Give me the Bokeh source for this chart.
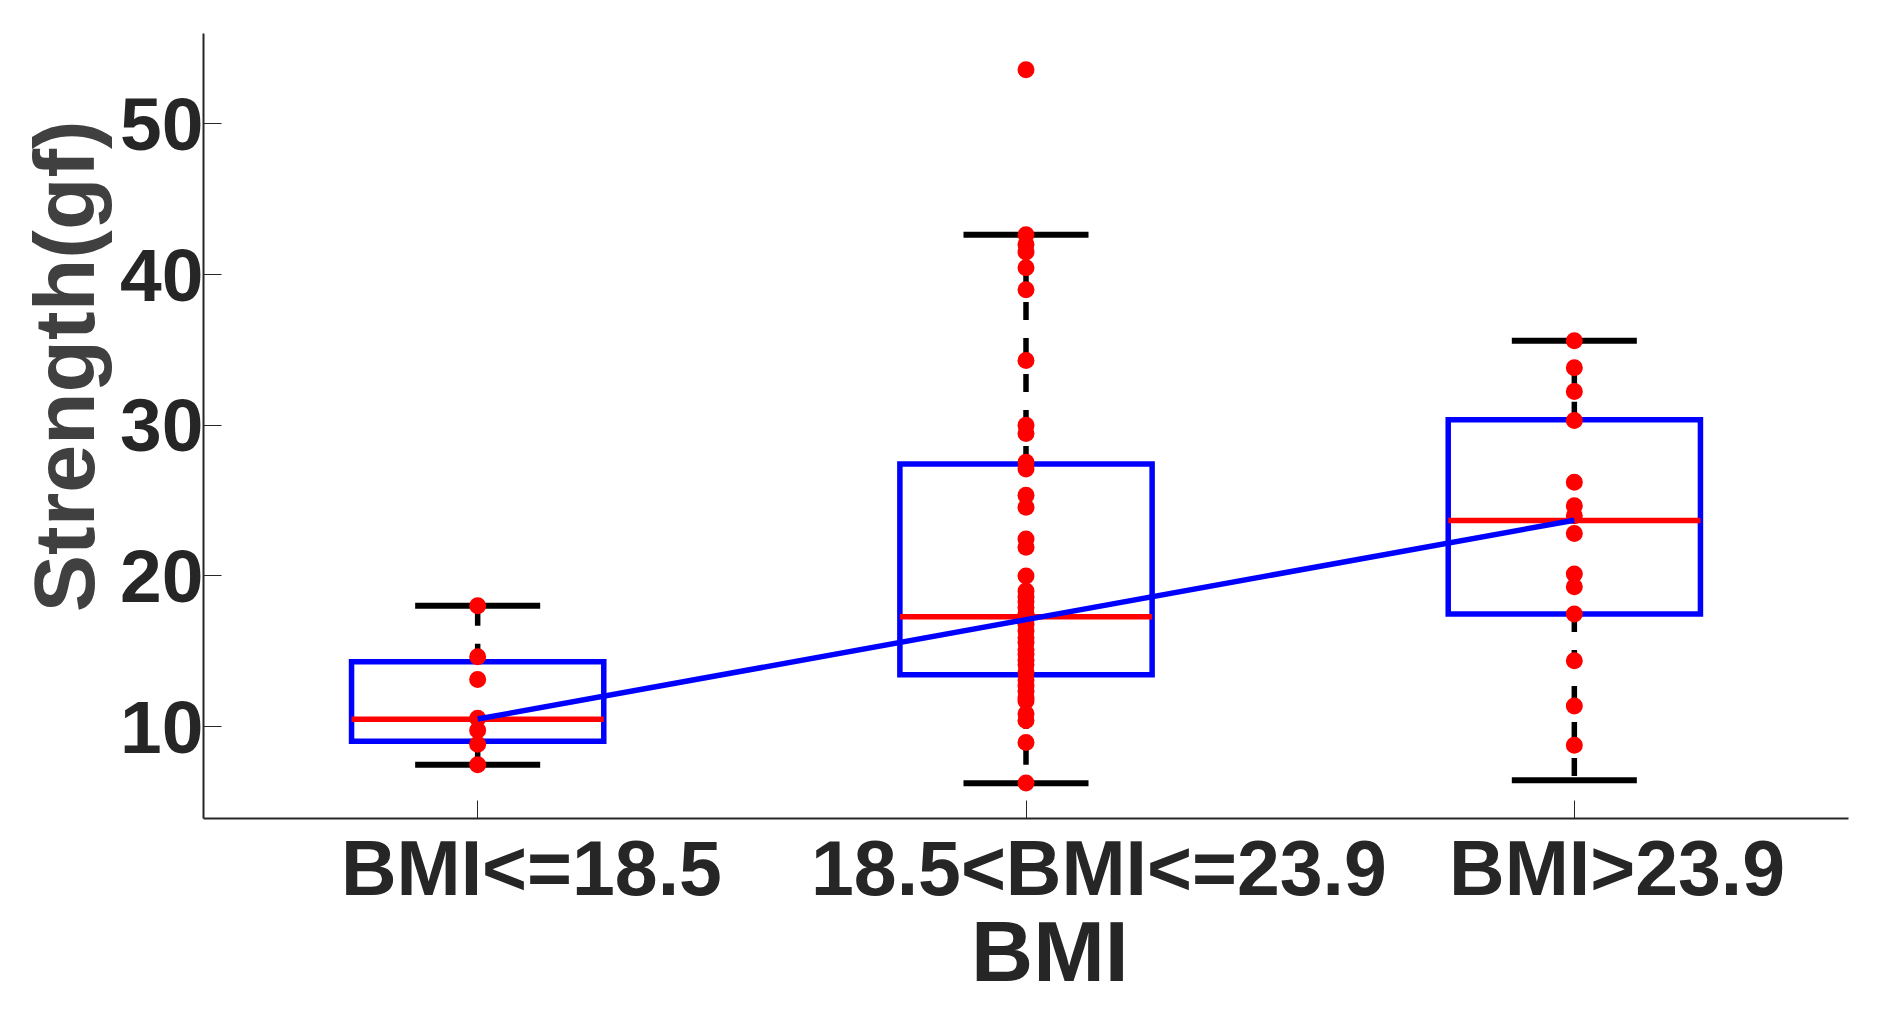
from bokeh.plotting import figure
from bokeh.models import FixedTicker, LinearAxis, Range1d
from bokeh.embed import file_html
from bokeh.resources import INLINE

# ---------------- data ----------------
groups = ["BMI<=18.5", "18.5<BMI<=23.9", "BMI>23.9"]
group_x = [1, 2, 3]
q1 = [9.03, 13.44, 17.47]
q3 = [14.30, 27.43, 30.36]
medians = [10.49, 17.29, 23.67]
whisk_lo = [7.46, 6.24, 6.44]
whisk_hi = [18.02, 42.65, 35.61]
trend = [10.50, 17.10, 23.70]

pts_g1 = [18.02, 14.63, 13.13, 10.56, 9.76, 8.83, 7.46]
pts_g2 = [53.6, 42.65, 42.0, 41.5, 40.45, 39.0, 34.3, 30.0, 29.45, 27.55,
          27.1, 25.35, 24.55, 22.45, 21.9, 20.0, 19.0, 18.6, 18.3, 17.9,
          17.5, 17.2, 16.8, 16.35, 15.9, 15.6, 15.1, 14.8, 14.4, 14.1,
          13.6, 13.1, 12.7, 12.35, 11.9, 11.7, 10.85, 10.4, 8.95, 6.25]
pts_g3 = [35.61, 33.81, 32.24, 30.31, 26.21, 24.66, 24.0, 22.82, 20.13,
          19.28, 17.47, 14.37, 11.36, 8.76]

y_ticks = [10, 20, 30, 40, 50]
x_label = "BMI"
y_label = "Strength(gf)"

# ---------------- style ----------------
BOX_HALF = 0.23
CAP_HALF = 0.114
LABEL_SHIFT = [0.0985, 0.133, 0.078]   # tick labels sit right of their ticks
TXT = "#262626"
FONT = "Liberation Sans"
SCALE = 1000  # label axis works in thousandths of a category step
NBSP = "\u00a0"

p = figure(x_range=(0.5, 3.5), y_range=(3.9, 56.0),
           frame_width=1645, frame_height=785,
           output_backend="svg", toolbar_location=None,
           x_axis_location=None,
           min_border_left=203, min_border_top=33, min_border_right=20,
           min_border_bottom=10)
p.outline_line_color = None
p.xgrid.visible = False
p.ygrid.visible = False
p.background_fill_color = "white"

# boxes
lefts = [x - BOX_HALF for x in group_x]
rights = [x + BOX_HALF for x in group_x]
p.quad(left=lefts, right=rights, bottom=q1, top=q3, fill_color=None,
       line_color="#0000FF", line_width=5.5, line_join="miter")
# whiskers
p.segment(x0=group_x, y0=q3, x1=group_x, y1=whisk_hi, line_color="black",
          line_width=5.5, line_dash="18 18")
p.segment(x0=group_x, y0=q1, x1=group_x, y1=whisk_lo, line_color="black",
          line_width=5.5, line_dash="18 18")
# caps
cl = [x - CAP_HALF for x in group_x]
cr = [x + CAP_HALF for x in group_x]
p.segment(x0=cl, y0=whisk_hi, x1=cr, y1=whisk_hi, line_color="black", line_width=6)
p.segment(x0=cl, y0=whisk_lo, x1=cr, y1=whisk_lo, line_color="black", line_width=6)
# medians
p.segment(x0=lefts, y0=medians, x1=rights, y1=medians, line_color="#FF0000",
          line_width=5.5)
# points
px, py = [], []
for gx, pts in zip(group_x, [pts_g1, pts_g2, pts_g3]):
    px += [gx] * len(pts)
    py += pts
p.scatter(px, py, size=17, fill_color="#FF0000", line_color=None)
# trend line
p.line(group_x, trend, line_color="#0000FF", line_width=5.5)

# y axis
ya = p.yaxis[0]
ya.ticker = FixedTicker(ticks=y_ticks)
ya.major_tick_in = 18
ya.major_tick_out = 0
ya.minor_tick_line_color = None
ya.major_tick_line_color = TXT
ya.major_tick_line_width = 1
ya.axis_line_color = TXT
ya.axis_line_width = 2
ya.major_label_text_font = FONT
ya.major_label_text_font_style = "bold"
ya.major_label_text_font_size = "75px"
ya.major_label_text_color = TXT
ya.major_label_standoff = 0
# leading no-break spaces lift the centred label, as in the original
ya.axis_label = NBSP * 5 + y_label
ya.axis_label_text_font = FONT
ya.axis_label_text_font_style = "bold"
ya.axis_label_text_font_size = "86px"
ya.axis_label_text_color = "#404040"
ya.axis_label_standoff = 5

# x axis: labels as major ticks (shifted right of the categories),
# the category tick marks as minor ticks
p.extra_x_ranges = {"labels": Range1d(0.5 * SCALE, 3.5 * SCALE)}
lab_ticks = [int(round(SCALE * (x + s))) for x, s in zip(group_x, LABEL_SHIFT)]
cat_ticks = [int(SCALE * x) for x in group_x]
xa = LinearAxis(x_range_name="labels",
                ticker=FixedTicker(ticks=lab_ticks, minor_ticks=cat_ticks),
                major_label_overrides={t: g for t, g in zip(lab_ticks, groups)})
xa.axis_line_color = TXT
xa.axis_line_width = 2
xa.major_tick_line_color = None
xa.minor_tick_line_color = TXT
xa.minor_tick_line_width = 1
xa.minor_tick_in = 18
xa.minor_tick_out = 0
xa.major_label_text_font = FONT
xa.major_label_text_font_style = "bold"
xa.major_label_text_font_size = "77px"
xa.major_label_text_color = TXT
xa.major_label_standoff = 0
xa.axis_label = NBSP * 2 + x_label
xa.axis_label_text_font = FONT
xa.axis_label_text_font_style = "bold"
xa.axis_label_text_font_size = "86px"
xa.axis_label_text_color = TXT
xa.axis_label_standoff = -11
p.add_layout(xa, "below")

open("out.html", "w").write(file_html(p, INLINE))
